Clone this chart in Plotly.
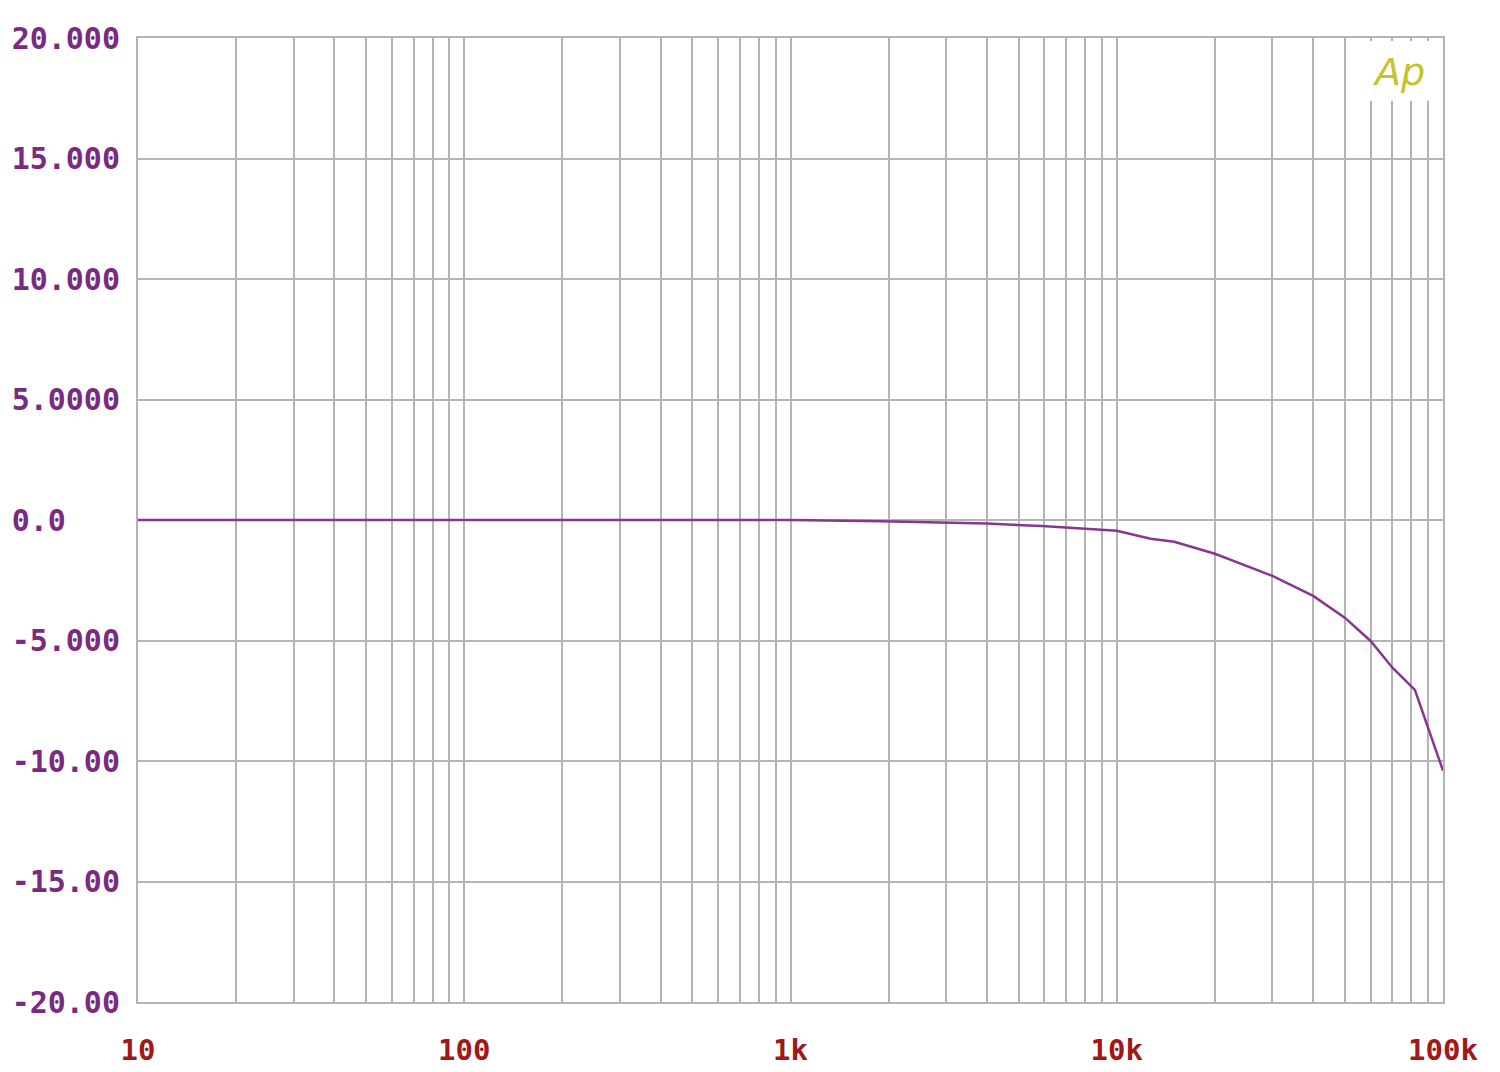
import plotly.graph_objects as go

# Frequency response data (Hz, dB)
freqs = [10, 100, 1000, 1900, 2800, 4000, 5900, 8300, 10000, 12700, 15000,
         20000, 30000, 40000, 50000, 60000, 70000, 82000, 100000]
gain_db = [0, 0, 0, -0.05, -0.1, -0.15, -0.25, -0.37, -0.45, -0.78, -0.9,
           -1.40, -2.32, -3.15, -4.05, -5.02, -6.13, -7.05, -10.4]

y_ticks = [20, 15, 10, 5, 0, -5, -10, -15, -20]
y_labels = ["20.000", "15.000", "10.000", "5.0000", "0.0\u00a0\u00a0\u00a0",
            "-5.000", "-10.00", "-15.00", "-20.00"]

decades = [10, 100, 1000, 10000, 100000]
decade_labels = ["10", "100", "1k", "10k", "100k"]

x_ticks = []
x_labels = []
for d, lab in zip(decades, decade_labels):
    x_ticks.append(d)
    x_labels.append(lab)
    if d < 100000:
        for m in range(2, 10):
            x_ticks.append(d * m)
            x_labels.append("")

grid_col = "#b4b4b4"
mono = "DejaVu Sans Mono"

fig = go.Figure()
fig.add_trace(go.Scatter(x=freqs, y=gain_db, mode="lines",
                         line=dict(color="#8a3590", width=2.5),
                         showlegend=False, hoverinfo="skip"))

fig.update_layout(
    width=1500, height=1072,
    margin=dict(l=130, r=65, t=30, b=78, autoexpand=False),
    paper_bgcolor="white", plot_bgcolor="white",
    xaxis=dict(type="log", range=[1, 5], tickvals=x_ticks, ticktext=x_labels,
               showgrid=True, gridcolor=grid_col, gridwidth=2,
               showline=True, linecolor=grid_col, linewidth=2, mirror=True,
               zeroline=False, ticks="", ticklabelstandoff=21, automargin=False,
               tickfont=dict(family=mono, size=29, color="#a01818", weight="bold")),
    yaxis=dict(range=[-20, 20], tickvals=y_ticks, ticktext=y_labels,
               showgrid=True, gridcolor=grid_col, gridwidth=2,
               showline=True, linecolor=grid_col, linewidth=2, mirror=True,
               zeroline=False, ticks="", ticklabelstandoff=10, automargin=False,
               tickfont=dict(family=mono, size=30, color="#7a2a80", weight="bold")),
)

# white patch behind the Ap logo (interrupts grid lines)
fig.add_shape(type="rect", xref="x", yref="y", x0=55000, x1=96000, y0=17.4, y1=19.88,
              fillcolor="white", line=dict(width=0), layer="above")
fig.add_annotation(x=4.865, y=18.6, xref="x", yref="y",
                   text="Ap", showarrow=False,
                   font=dict(family="DejaVu Sans", size=38, color="#c3c42a", style="italic"),
                   xanchor="center", yanchor="middle")

fig.write_html("out.html")
